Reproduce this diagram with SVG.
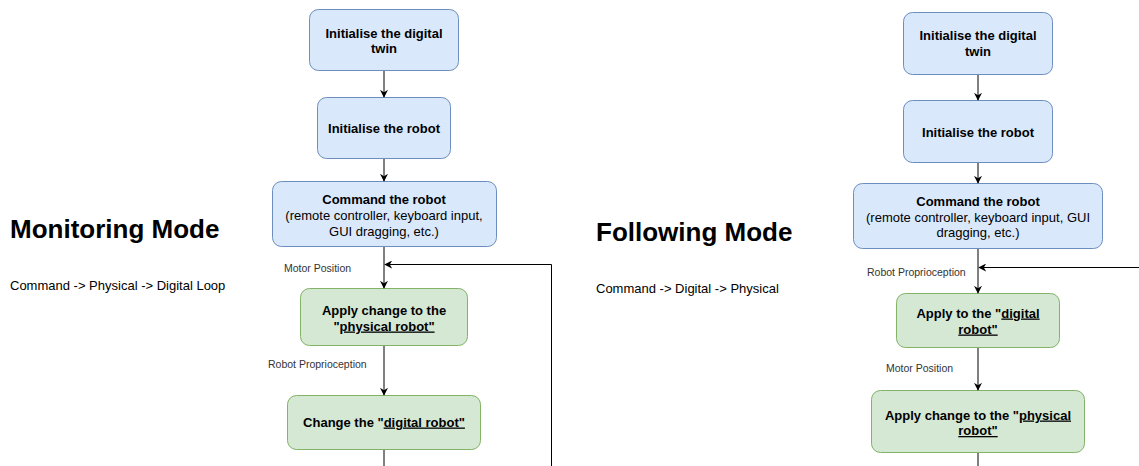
<svg xmlns="http://www.w3.org/2000/svg" width="1139" height="466" viewBox="0 0 1139 466">
  <style>
    .blue { fill: #dae8fc; stroke: #6c8ebf; stroke-width: 1; }
    .green { fill: #d5e8d4; stroke: #82b366; stroke-width: 1; }
    .lbl { font-family: "Liberation Sans", Arial, Helvetica, sans-serif; font-size: 13px; fill: #000; text-anchor: middle; }
    .b { font-weight: bold; }
    .edge { font-family: "Liberation Sans", Arial, Helvetica, sans-serif; font-size: 10.5px; fill: #333; }
    .title { font-family: "Liberation Sans", Arial, Helvetica, sans-serif; font-size: 26px; font-weight: bold; fill: #000; }
    .sub { font-family: "Liberation Sans", Arial, Helvetica, sans-serif; font-size: 13px; fill: #000; }
    .u { text-decoration: underline; }
    .wire { fill: none; stroke: #000; stroke-width: 1; }
  </style>
  <defs>
    <marker id="arrow" viewBox="0 0 10 10" refX="9" refY="5" markerWidth="8" markerHeight="8" markerUnits="userSpaceOnUse" orient="auto">
      <path d="M0,0 L10,5 L0,10 L3,5 z" fill="#000"/>
    </marker>
  </defs>
  <rect width="1139" height="466" fill="#fff"/>

  <!-- Monitoring mode heading -->
  <g id="monitoring-title">
    <text class="title" x="10" y="238">Monitoring Mode</text>
    <text class="sub" x="10" y="290">Command -&gt; Physical -&gt; Digital Loop</text>
  </g>

  <!-- Following mode heading -->
  <g id="following-title">
    <text class="title" x="596" y="241">Following Mode</text>
    <text class="sub" x="596" y="293">Command -&gt; Digital -&gt; Physical</text>
  </g>

  <!-- Monitoring mode flow -->
  <g id="m-init-twin">
    <rect class="blue" x="309.5" y="9.5" width="149" height="61" rx="9"/>
    <text class="lbl b" x="384" y="37.5">Initialise the digital</text>
    <text class="lbl b" x="384" y="53">twin</text>
  </g>
  <g id="m-init-robot">
    <rect class="blue" x="317.5" y="97.5" width="133" height="61" rx="9"/>
    <text class="lbl b" x="384" y="132.5">Initialise the robot</text>
  </g>
  <g id="m-command">
    <rect class="blue" x="272.5" y="181.5" width="224" height="65" rx="9"/>
    <text class="lbl b" x="384" y="203.5">Command the robot</text>
    <text class="lbl" x="384" y="219.5">(remote controller, keyboard input,</text>
    <text class="lbl" x="384" y="235.5">GUI dragging, etc.)</text>
  </g>
  <g id="m-apply-physical">
    <rect class="green" x="300.5" y="288.5" width="167" height="57" rx="9"/>
    <text class="lbl b" x="384" y="314.5">Apply change to the</text>
    <text class="lbl b" x="384" y="330.5">"<tspan class="u">physical robot"</tspan></text>
  </g>
  <g id="m-change-digital">
    <rect class="green" x="287.5" y="395.5" width="193" height="54" rx="9"/>
    <text class="lbl b" x="384" y="426.5">Change the "<tspan class="u">digital robot"</tspan></text>
  </g>

  <!-- Following mode flow -->
  <g id="f-init-twin">
    <rect class="blue" x="903.5" y="12.5" width="149" height="62" rx="9"/>
    <text class="lbl b" x="978" y="39.5">Initialise the digital</text>
    <text class="lbl b" x="978" y="56">twin</text>
  </g>
  <g id="f-init-robot">
    <rect class="blue" x="903.5" y="100.5" width="149" height="62" rx="9"/>
    <text class="lbl b" x="978" y="136.5">Initialise the robot</text>
  </g>
  <g id="f-command">
    <rect class="blue" x="853.5" y="183.5" width="249" height="65" rx="9"/>
    <text class="lbl b" x="978" y="205.5">Command the robot</text>
    <text class="lbl" x="978" y="221.5">(remote controller, keyboard input, GUI</text>
    <text class="lbl" x="978" y="236.5">dragging, etc.)</text>
  </g>
  <g id="f-apply-digital">
    <rect class="green" x="896.5" y="293.5" width="163" height="54" rx="9"/>
    <text class="lbl b" x="978" y="317.5">Apply to the "<tspan class="u">digital</tspan></text>
    <text class="lbl b" x="978" y="333.5"><tspan class="u">robot"</tspan></text>
  </g>
  <g id="f-apply-physical">
    <rect class="green" x="871.5" y="390.5" width="213" height="62" rx="9"/>
    <text class="lbl b" x="978" y="419.5">Apply change to the "<tspan class="u">physical</tspan></text>
    <text class="lbl b" x="978" y="435"><tspan class="u">robot"</tspan></text>
  </g>

  <!-- Connectors -->
  <g id="connectors">
    <line class="wire" x1="384" y1="71" x2="384" y2="97" marker-end="url(#arrow)"/>
    <line class="wire" x1="384" y1="159" x2="384" y2="181" marker-end="url(#arrow)"/>
    <line class="wire" x1="384" y1="247" x2="384" y2="288" marker-end="url(#arrow)"/>
    <line class="wire" x1="384" y1="346" x2="384" y2="395" marker-end="url(#arrow)"/>
    <line class="wire" x1="384" y1="450" x2="384" y2="466"/>
    <path class="wire" d="M551.5,466 L551.5,264.5 L385,264.5" marker-end="url(#arrow)"/>
    <text class="edge" x="284" y="271.5">Motor Position</text>
    <text class="edge" x="268" y="367.5">Robot Proprioception</text>

    <line class="wire" x1="978" y1="75" x2="978" y2="100" marker-end="url(#arrow)"/>
    <line class="wire" x1="978" y1="163" x2="978" y2="183" marker-end="url(#arrow)"/>
    <line class="wire" x1="978" y1="249" x2="978" y2="293" marker-end="url(#arrow)"/>
    <line class="wire" x1="978" y1="348" x2="978" y2="390" marker-end="url(#arrow)"/>
    <line class="wire" x1="978" y1="453" x2="978" y2="466"/>
    <path class="wire" d="M1139,267.5 L979,267.5" marker-end="url(#arrow)"/>
    <text class="edge" x="867" y="275.5">Robot Proprioception</text>
    <text class="edge" x="886" y="371.5">Motor Position</text>
  </g>
</svg>
